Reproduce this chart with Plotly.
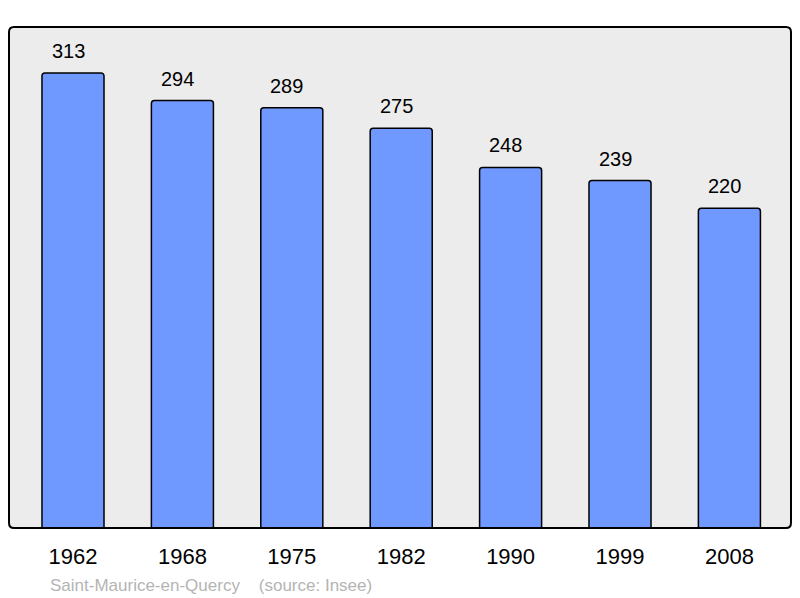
import plotly.graph_objects as go

years = ["1962", "1968", "1975", "1982", "1990", "1999", "2008"]
population = [313, 294, 289, 275, 248, 239, 220]
source_text = "Saint-Maurice-en-Quercy    (source: Insee)"

x_pos = list(range(len(years)))

fig = go.Figure()
fig.add_trace(go.Bar(
    x=x_pos, y=population, width=0.567,
    marker=dict(color="#7099ff", line=dict(color="#000000", width=1.5), cornerradius=3),
    hoverinfo="skip",
))

for xi, v in zip(x_pos, population):
    fig.add_annotation(x=xi, y=v, text=str(v), showarrow=False, yanchor="bottom",
                       yshift=9, xshift=-5,
                       font=dict(family="Liberation Sans, Arial", size=20, color="#000000"))

fig.add_annotation(xref="paper", yref="paper", x=0.05, y=-0.092, xanchor="left", yanchor="top",
                   text=source_text.replace(" ", "&nbsp;"), showarrow=False,
                   font=dict(family="Liberation Sans, Arial", size=17, color="#b4b4b4"))

rx, ry = 5 / 782, 5 / 501
path = (f"M {rx} 0 L {1-rx} 0 Q 1 0 1 {ry} L 1 {1-ry} Q 1 1 {1-rx} 1 "
        f"L {rx} 1 Q 0 1 0 {1-ry} L 0 {ry} Q 0 0 {rx} 0 Z")
fig.add_shape(type="path", xref="paper", yref="paper", path=path,
              line=dict(color="#000000", width=2), fillcolor="rgba(0,0,0,0)", layer="above")

fig.update_layout(
    width=792, height=590,
    margin=dict(l=1, r=9, t=19, b=70, pad=0),
    paper_bgcolor="#ffffff", plot_bgcolor="#ececec",
    showlegend=False,
    xaxis=dict(range=[-0.585, 6.563], tickvals=x_pos, ticktext=years, showgrid=False,
               zeroline=False, ticks="", ticklabelstandoff=13,
               tickfont=dict(family="Liberation Sans, Arial", size=22, color="#000000")),
    yaxis=dict(range=[0, 344.6], showgrid=False, zeroline=False, showticklabels=False, ticks=""),
)

fig.write_html("out.html")
